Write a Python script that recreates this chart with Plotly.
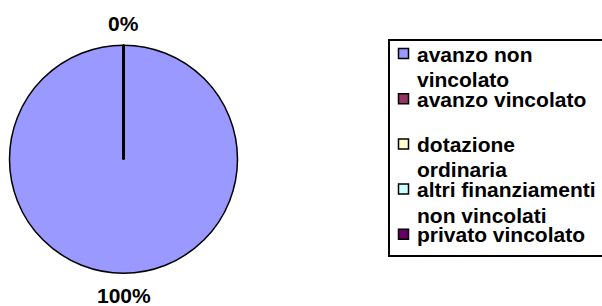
import plotly.graph_objects as go

# ---- data ----
labels = ["avanzo non vincolato", "avanzo vincolato", "dotazione ordinaria",
          "altri finanziamenti non vincolati", "privato vincolato"]
legend_lines = [["avanzo non", "vincolato"], ["avanzo vincolato"], ["dotazione", "ordinaria"],
                ["altri finanziamenti", "non vincolati"], ["privato vincolato"]]
values = [100, 0, 0, 0, 0]
colors = ["#9999FF", "#993366", "#FFFFCC", "#CCFFFF", "#660066"]

W, H = 602, 306
FONT = "Liberation Sans, Arial, sans-serif"
FS = 21


def px(x):
    return x / W


def py(y):
    return 1 - y / H


fig = go.Figure()
cx, cy, r = 123.5, 159.2, 114.0
fig.add_trace(go.Pie(
    labels=labels, values=values, sort=False, direction="clockwise", rotation=0,
    marker=dict(colors=colors, line=dict(color="black", width=1.5)),
    textinfo="none", hoverinfo="label+percent", showlegend=False,
    domain=dict(x=[px(cx - r), px(cx + r)], y=[py(cy + r), py(cy - r)]),
))

annotations = []
shapes = []
total = sum(values)
# percentage labels: zero slice at top, main slice at bottom
pcts = [round(v / total * 100) for v in values]
annotations.append(dict(text=f"<b>{pcts[1]}%</b>", x=px(cx), y=py(23.5), xref="paper", yref="paper",
                        showarrow=False, xanchor="center", yanchor="middle",
                        font=dict(family=FONT, size=FS, color="black")))
annotations.append(dict(text=f"<b>{pcts[0]}%</b>", x=px(cx), y=py(295), xref="paper", yref="paper",
                        showarrow=False, xanchor="center", yanchor="middle",
                        font=dict(family=FONT, size=FS, color="black")))
# radial border line of the zero-valued slice
shapes.append(dict(type="line", xref="paper", yref="paper", x0=px(cx), x1=px(cx),
                   y0=py(cy), y1=py(cy - r), line=dict(color="black", width=3)))

# legend box
shapes.append(dict(type="rect", xref="paper", yref="paper", x0=px(389), x1=px(612),
                   y0=py(256), y1=py(40), line=dict(color="black", width=2), fillcolor="white",
                   layer="below"))
base0, step, lh = 61, 45.2, 25.5
for i, (lines, col) in enumerate(zip(legend_lines, colors)):
    b = base0 + i * step
    shapes.append(dict(type="rect", xref="paper", yref="paper", x0=px(398.5), x1=px(408.5),
                       y0=py(b - 2.5), y1=py(b - 12.5), line=dict(color="black", width=1.5),
                       fillcolor=col))
    for j, ln in enumerate(lines):
        annotations.append(dict(text=f"<b>{ln}</b>", x=px(415), y=py(b + j * lh - 7),
                                xref="paper", yref="paper", showarrow=False,
                                xanchor="left", yanchor="middle",
                                font=dict(family=FONT, size=FS, color="black")))

fig.update_layout(width=W, height=H, margin=dict(l=0, r=0, t=0, b=0),
                  paper_bgcolor="white", plot_bgcolor="white",
                  shapes=shapes, annotations=annotations, showlegend=False)
fig.write_html("out.html", config={"displayModeBar": False},
               post_script="document.body.style.margin='0';document.body.style.overflow='hidden';")
